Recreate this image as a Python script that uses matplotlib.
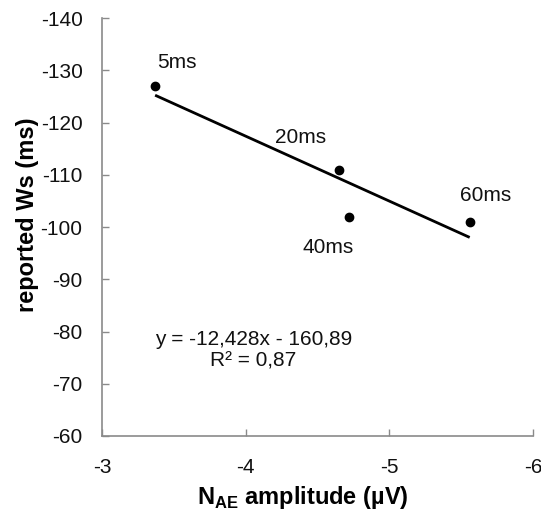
import numpy as np
import matplotlib
matplotlib.use("Agg")
import matplotlib.pyplot as plt

plt.rcParams['font.family'] = ['Liberation Sans', 'DejaVu Sans']
plt.rcParams['mathtext.fontset'] = 'custom'
plt.rcParams['mathtext.rm'] = 'Liberation Sans'
plt.rcParams['mathtext.bf'] = 'Liberation Sans:bold'

# Data
amplitude = [-3.37, -4.65, -4.72, -5.56]
reported_ws = [-127, -111, -102, -101]
point_labels = ['5ms', '20ms', '40ms', '60ms']
label_pos = [(-3.383, -131.4), (-4.204, -117.2), (-4.399, -96.0), (-5.492, -106.1)]
x_ticks = [-3, -4, -5, -6]
y_ticks = [-140, -130, -120, -110, -100, -90, -80, -70, -60]
equation_text = 'y = -12,428x - 160,89'
r2_text = 'R² = 0,87'

fig = plt.figure(figsize=(5.41, 5.15), dpi=100)
ax = fig.add_axes([0.1885, 0.1534, 0.7965, 0.8116])

ax.set_xlim(-3, -6)
ax.set_ylim(-60, -140)

# trend line
coef = np.polyfit(amplitude, reported_ws, 1)
xs = np.array([min(amplitude), max(amplitude)])
ax.plot(xs, np.polyval(coef, xs), color='black', lw=2.0, solid_capstyle='butt', zorder=2)

ax.plot(amplitude, reported_ws, 'o', color='black', markersize=6, zorder=3)

for lab, (lx, ly) in zip(point_labels, label_pos):
    ax.text(lx, ly, lab, fontsize=15, ha='left', va='center', color='#111111')

ax.text(-4.053, -78.4, equation_text, fontsize=15, ha='center', va='center', color='#111111')
ax.text(-4.053, -74.4, r2_text, fontsize=15, ha='center', va='center', color='#111111')

ax.set_xticks(x_ticks)
ax.set_yticks(y_ticks)
ax.set_xticklabels([str(t) for t in x_ticks])
ax.set_yticklabels([str(t) for t in y_ticks])

for s in ['top', 'right']:
    ax.spines[s].set_visible(False)
for s in ['left', 'bottom']:
    ax.spines[s].set_color('#8a8a8a')
    ax.spines[s].set_linewidth(1.2)

ax.tick_params(axis='both', direction='in', length=5, width=1.0, color='#8a8a8a',
               labelsize=15, labelcolor='#111111')
ax.tick_params(axis='y', pad=14)
ax.tick_params(axis='x', pad=16)

ax.set_xlabel(r'$\mathbf{N}_{\mathbf{AE}}$ amplitude (µV)', fontsize=17, fontweight='bold', va='center')
ax.xaxis.set_label_coords(0.465, -0.148)
ax.set_ylabel('reported Ws (ms)', fontsize=17, fontweight='bold', va='center')
ax.yaxis.set_label_coords(-0.174, 0.53)

fig.savefig('out.png', dpi=100)
